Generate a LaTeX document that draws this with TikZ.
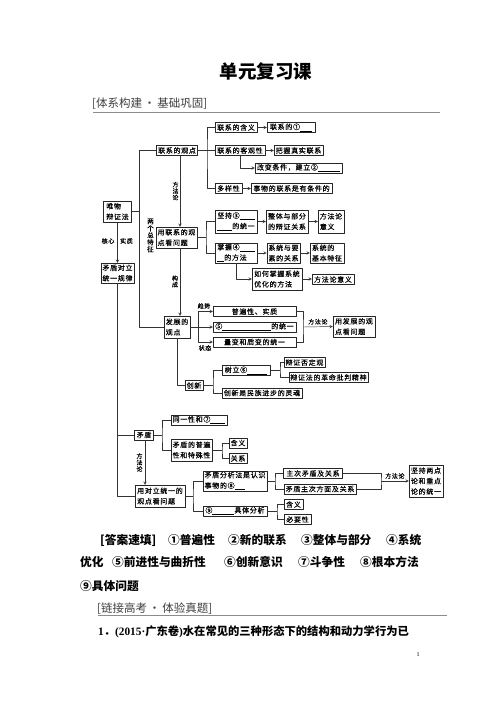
\documentclass[tikz,border=0pt]{standalone}
\usepackage{fontspec}
\setmainfont{Liberation Serif}
\newfontfamily\cjk{Noto Sans CJK SC}
\newfontfamily\cjkbox{Noto Sans CJK SC}[LetterSpace=10,FakeBold=0.4]
\usetikzlibrary{shadows}
\newcommand\kong[1]{\underline{\hspace{#1}}}
\tikzset{
  box/.style={draw=black!85, fill=white, line width=0.45pt, inner xsep=1.5pt, inner ysep=1pt,
    font=\cjkbox\fontsize{7}{10.5}\selectfont, align=left, minimum height=10pt,
    drop shadow={shadow xshift=0.7pt, shadow yshift=-0.7pt, opacity=0.6}},
  lab/.style={font=\cjkbox\fontsize{6}{6.4}\selectfont, inner sep=0pt, align=center},
  conn/.style={draw=black!80, line width=0.45pt},
  head/.style={font=\cjk\fontsize{11.5}{13}\selectfont, text=black!75, inner sep=0pt, anchor=west},
  rule/.style={draw=black!45, line width=0.8pt},
  ans/.style={font=\cjk\bfseries\fontsize{11.7}{14}\selectfont, inner sep=0pt, anchor=west},
}
\begin{document}
\begin{tikzpicture}[x=1pt,y=-1pt,>=stealth,line join=round]
\useasboundingbox[fill=white] (0,0) rectangle (496,702);
% title and heading
\node[font=\cjk\bfseries\fontsize{18.5}{20}\selectfont, inner sep=0pt] (title) at (266,71) {单元复习课};
\node[head] (head1) at (92,104) {[体系构建\,·\,基础巩固]};
\draw[rule] (93,112) -- (440,112);

% main boxes
\node[box, minimum width=28pt, minimum height=21pt] (wwbz) at (117.5,211.5) {唯物\\辩证法};
\node[box, minimum width=29pt, minimum height=20pt] (mdgl) at (117.5,273) {矛盾对立\\统一规律};
\node[box, minimum width=40pt] (lxgd) at (177,150.5) {联系的观点};
\node[box, minimum width=41pt, minimum height=21pt] (yonglx) at (176.5,237.5) {用联系的观\\点看问题};
\node[box, minimum width=26pt, minimum height=22pt] (fzgd) at (177,327) {发展的\\观点};

% connection
\node[box, minimum width=42pt] (hanyi) at (236,127.5) {联系的含义};
\node[box, minimum width=48pt] (pu1) at (291,127.5) {联系的①\kong{12pt}};
\node[box, minimum width=50pt] (kgx) at (240,150.5) {联系的客观性};
\node[box, minimum width=49pt] (bawo) at (298.5,150.5) {把握真实联系};
\node[box, minimum width=87pt] (gaibian) at (298.5,168) {改变条件，建立②\kong{22pt}};
\node[box, minimum width=27pt] (dyx) at (228.5,188.5) {多样性};
\node[box, minimum width=81pt] (tiaojian) at (291.5,188.5) {事物的联系是有条件的};
\node[box, minimum width=42pt, minimum height=23pt] (jianchi) at (236,221.5) {坚持③\kong{15pt}\\\kong{15pt}的统一};
\node[box, minimum width=42pt, minimum height=23pt] (zhengti) at (287,221.5) {整体与部分\\的辩证关系};
\node[box, minimum width=26pt, minimum height=23pt] (ffl1) at (331,221.5) {方法论\\意义};
\node[box, minimum width=42pt, minimum height=20pt] (zhangwo) at (236,253) {掌握④\kong{15pt}\\\kong{7pt}的方法};
\node[box, minimum width=33pt, minimum height=20pt] (xtys) at (283.5,253) {系统与要\\素的关系};
\node[box, minimum width=34pt, minimum height=20pt] (xtjb) at (327,253) {系统的\\基本特征};
\node[box, minimum width=50pt, minimum height=22pt] (youhua) at (277,279) {如何掌握系统\\优化的方法};
\node[box, minimum width=42pt] (ffl2) at (333,279.5) {方法论意义};

% development
\node[box, minimum width=83pt, align=center] (pbx) at (254.5,311.5) {普遍性、实质};
\node[box, minimum width=83pt] (qjx) at (254.5,327) {⑤\kong{49pt}的统一};
\node[box, minimum width=83pt, align=center] (lb) at (254.5,342) {量变和质变的统一};
\node[box, minimum width=42pt, minimum height=21pt] (yongfz) at (354,326.5) {用发展的观\\点看问题};
\node[box, minimum width=16pt] (cx) at (194,385.5) {创新};
\node[box, minimum width=48pt] (shuli) at (246,370.5) {树立⑥\kong{20pt}};
\node[box, minimum width=31pt] (bzfd) at (304.5,362.5) {辩证否定观};
\node[box, minimum width=79pt] (gmpp) at (328.5,377.5) {辩证法的革命批判精神};
\node[box, minimum width=80pt] (minzu) at (262,393) {创新是民族进步的灵魂};

% contradiction
\node[box, minimum width=19pt] (md) at (144,435) {矛盾};
\node[box, minimum width=56pt] (tyx) at (199,420) {同一性和⑦\kong{15pt}};
\node[box, minimum width=41pt, minimum height=22pt] (ptx) at (191.5,450) {矛盾的普遍\\性和特殊性};
\node[box, minimum width=18pt] (hy1) at (238,443) {含义};
\node[box, minimum width=18pt] (gx) at (238,458.5) {关系};
\node[box, minimum width=50pt, minimum height=22pt] (yongdl) at (160,496) {用对立统一的\\观点看问题};
\node[box, minimum width=64pt, minimum height=20pt] (fxf) at (235,481) {矛盾分析法是认识\\事物的⑧\kong{10pt}};
\node[box, minimum width=64pt] (jtfx) at (235,511) {⑨\kong{22pt}具体分析};
\node[box, minimum width=59pt] (zcmd) at (313,473.5) {主次矛盾及关系};
\node[box, minimum width=72pt] (zcfm) at (320,489) {矛盾主次方面及关系};
\node[box, minimum width=34pt, minimum height=32pt] (lddl) at (426,481) {坚持两点\\论和重点\\论的统一};
\node[box, minimum width=19pt] (hy2) at (293.5,504.5) {含义};
\node[box, minimum width=27pt] (byx) at (297.5,519.5) {必要性};

% trunk and left side
\coordinate (t1) at (139,150.5);
\draw[conn] (lxgd.west) -- (t1) |- (fzgd.west);
\draw[conn] (wwbz.east) -- (wwbz.east -| t1);
\draw[conn,->] (wwbz.south) -- (mdgl.north);
\node[lab] (hx) at (108,241) {核心};
\node[lab] (sz) at (126.5,241) {实质};
\draw[conn] (mdgl.south) |- (yongdl.west);
\draw[conn] (md.west) -- (md.west -| mdgl.south);
\node[lab, font=\cjkbox\fontsize{6.5}{7}\selectfont] (lgtz) at (150.5,235.5) {两\\个\\总\\特\\征};

% fans of the connection view
\coordinate (f1) at (207,150.5);
\draw[conn] (lxgd.east) -- (kgx.west);
\draw[conn] (hanyi.west) -| (f1) |- (dyx.west);
\draw[conn,->] (hanyi) -- (pu1);
\draw[conn,->] (kgx) -- (bawo);
\draw[conn,->] (kgx.south) |- (gaibian.west);
\draw[conn,->] (dyx) -- (tiaojian);
\draw[conn,->] ([xshift=3pt]lxgd.south) -- ([xshift=3.5pt]yonglx.north);
\node[lab] (ffla) at (175.5,191) {方\\法\\论};
\coordinate (f2) at (206,237.5);
\draw[conn] (yonglx.east) -- (f2);
\draw[conn] (jianchi.west) -| (f2) |- (zhangwo.west);
\draw[conn,->] (jianchi) -- (zhengti);
\draw[conn,->] (zhengti) -- (ffl1);
\draw[conn,->] (zhangwo) -- (xtys);
\draw[conn,->] (xtys) -- (xtjb);
\draw[conn,->] (zhangwo.south) |- (youhua.west);
\draw[conn,->] (youhua.east) -- (ffl2.west |- youhua.east);

% fans of the development view
\draw[conn,->] ([xshift=3.5pt]yonglx.south) -- ([xshift=3pt]fzgd.north);
\node[lab] (gc) at (175,281.5) {构\\成};
\coordinate (f3) at (198,327);
\draw[conn,->] (fzgd.east) -- (qjx.west);
\draw[conn,->] (f3) |- (pbx.west);
\draw[conn,->] (f3) |- (lb.west);
\node[lab] (qs) at (204,306) {趋势};
\node[lab] (zt) at (205,348) {状态};
\coordinate (b1) at (303,327);
\draw[conn] (pbx.east) -| (b1) |- (lb.east);
\draw[conn,->] (b1) -- (yongfz.west) node[lab, midway, above=2pt] {方法论};
\draw[conn] (fzgd.south) |- (cx.west);
\coordinate (f4) at (213,385.5);
\draw[conn] (cx.east) -- (f4);
\draw[conn] (shuli.west) -| (f4) |- (minzu.west);
\coordinate (f5) at (280,370.5);
\draw[conn] (shuli.east) -- (f5);
\draw[conn] (bzfd.west) -| (f5) |- (gmpp.west);

% fans of the contradiction
\coordinate (f6) at (162,435);
\draw[conn] (md.east) -- (f6);
\draw[conn] (tyx.west) -| (f6) |- (ptx.west);
\coordinate (f7) at (222,450);
\draw[conn] (ptx.east) -- (f7);
\draw[conn] (hy1.west) -| (f7) |- (gx.west);
\draw[conn,->] ([xshift=1pt]md.south) -- ([xshift=1pt]md.south |- yongdl.north);
\node[lab] (fflb) at (139.5,462.5) {方\\法\\论};
\coordinate (f8) at (193,496);
\draw[conn] (yongdl.east) -- (f8);
\draw[conn] (fxf.west) -| (f8) |- (jtfx.west);
\coordinate (f9) at (275,481);
\draw[conn] (fxf.east) -- (f9);
\draw[conn] (zcmd.west) -| (f9) |- (zcfm.west);
\coordinate (f10) at (277,511);
\draw[conn] (jtfx.east) -- (f10);
\draw[conn] (hy2.west) -| (f10) |- (byx.west);
\coordinate (b2) at (381,481);
\draw[conn] (zcmd.east) -| (b2) |- (zcfm.east);
\draw[conn,->] (b2) -- (lddl.west) node[lab, midway, above=2pt] {方法论};

% answers
\foreach \x/\y/\t [count=\i] in {100/540/{[答案速填]}, 168/540/①普遍性, 228/540/②新的联系,
    301/540/③整体与部分, 386/540/④系统, 80/562/优化, 112/562/⑤前进性与曲折性,
    224/562/⑥创新意识, 298/562/⑦斗争性, 360/562/⑧根本方法, 80/586.5/⑨具体问题}
  \node[ans] (ans\i) at (\x,\y) {\t};

\node[head] (head2) at (97,609) {[链接高考\,·\,体验真题]};
\draw[rule] (98,615) -- (447,615);
\node[ans, font=\cjk\bfseries\fontsize{11.3}{14}\selectfont] (q1) at (98,632)
  {{\rmfamily 1}．{\rmfamily (2015·}广东卷{\rmfamily )}水在常见的三种形态下的结构和动力学行为已};
\node[font=\rmfamily\fontsize{6}{7}\selectfont, inner sep=0pt] (pg) at (418,655) {1};
\end{tikzpicture}
\end{document}
